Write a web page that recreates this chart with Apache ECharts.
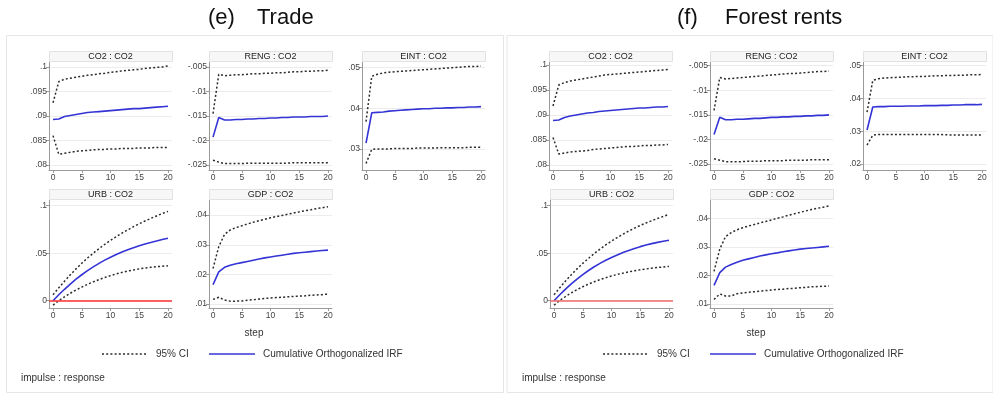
<!DOCTYPE html>
<html><head><meta charset="utf-8">
<script src="https://cdn.jsdelivr.net/npm/echarts@6/dist/echarts.min.js"></script>
<style>html,body{margin:0;padding:0;background:#fff}#c{width:993px;height:396px}</style>
</head><body><div id="c"></div><script>
// ---------- data ----------
const steps = [0,1,2,3,4,5,6,7,8,9,10,11,12,13,14,15,16,17,18,19,20];
const stepTicks = [0,5,10,15,20];

// (e) Trade
const e_co2_irf = [0.0893,0.0894,0.0899,0.0901,0.0903,0.0905,0.0907,0.0908,0.0909,0.0910,0.0911,0.0912,0.0913,0.0914,0.0915,0.0915,0.0916,0.0917,0.0918,0.0919,0.0920];
const e_co2_hi  = [0.0927,0.0970,0.0975,0.0977,0.0979,0.0981,0.0983,0.0984,0.0986,0.0987,0.0989,0.0990,0.0992,0.0993,0.0994,0.0995,0.0997,0.0998,0.0999,0.1000,0.1002];
const e_co2_lo  = [0.0860,0.0822,0.0824,0.0826,0.0828,0.0829,0.0830,0.0831,0.0832,0.0832,0.0833,0.0833,0.0834,0.0834,0.0834,0.0835,0.0835,0.0835,0.0836,0.0836,0.0836];

const e_reng_irf = [-0.0193,-0.0153,-0.0158,-0.0158,-0.0157,-0.0157,-0.0156,-0.0156,-0.0155,-0.0155,-0.0154,-0.0154,-0.0153,-0.0153,-0.0152,-0.0152,-0.0152,-0.0151,-0.0151,-0.0151,-0.0150];
const e_reng_hi  = [-0.0145,-0.0065,-0.0068,-0.0067,-0.0066,-0.0066,-0.0065,-0.0064,-0.0064,-0.0063,-0.0063,-0.0062,-0.0062,-0.0061,-0.0060,-0.0060,-0.0059,-0.0059,-0.0058,-0.0058,-0.0057];
const e_reng_lo  = [-0.0240,-0.0244,-0.0247,-0.0247,-0.0247,-0.0247,-0.0246,-0.0246,-0.0246,-0.0246,-0.0246,-0.0246,-0.0246,-0.0246,-0.0245,-0.0245,-0.0245,-0.0245,-0.0245,-0.0245,-0.0245];

const e_eint_irf = [0.0314,0.0389,0.0390,0.0391,0.0393,0.0394,0.0395,0.0396,0.0397,0.0398,0.0399,0.0399,0.0400,0.0400,0.0401,0.0401,0.0402,0.0402,0.0403,0.0403,0.0404];
const e_eint_hi  = [0.0367,0.0479,0.0484,0.0487,0.0489,0.0490,0.0491,0.0492,0.0493,0.0494,0.0495,0.0496,0.0497,0.0498,0.0499,0.0500,0.0501,0.0502,0.0503,0.0503,0.0504];
const e_eint_lo  = [0.0264,0.0299,0.0300,0.0300,0.0300,0.0301,0.0301,0.0301,0.0301,0.0302,0.0302,0.0302,0.0302,0.0303,0.0303,0.0303,0.0303,0.0303,0.0304,0.0304,0.0304];

const e_urb_irf = [0.0000,0.0062,0.0120,0.0175,0.0226,0.0273,0.0316,0.0356,0.0393,0.0427,0.0458,0.0486,0.0512,0.0536,0.0558,0.0578,0.0596,0.0613,0.0629,0.0644,0.0658];
const e_urb_hi  = [0.0062,0.0135,0.0205,0.0272,0.0335,0.0394,0.0449,0.0500,0.0548,0.0593,0.0635,0.0674,0.0711,0.0746,0.0779,0.0810,0.0839,0.0866,0.0892,0.0917,0.0940];
const e_urb_lo  = [-0.0046,0.0000,0.0040,0.0078,0.0112,0.0143,0.0172,0.0198,0.0222,0.0244,0.0264,0.0282,0.0298,0.0312,0.0324,0.0335,0.0344,0.0352,0.0358,0.0363,0.0367];

const e_gdp_irf = [0.0166,0.0209,0.0224,0.0231,0.0236,0.0240,0.0244,0.0248,0.0252,0.0256,0.0259,0.0262,0.0265,0.0268,0.0271,0.0273,0.0275,0.0277,0.0279,0.0281,0.0282];
const e_gdp_hi  = [0.0220,0.0294,0.0335,0.0350,0.0358,0.0364,0.0370,0.0376,0.0381,0.0386,0.0391,0.0395,0.0399,0.0403,0.0407,0.0411,0.0415,0.0418,0.0422,0.0425,0.0428];
const e_gdp_lo  = [0.0116,0.0123,0.0114,0.0110,0.0110,0.0111,0.0113,0.0115,0.0117,0.0119,0.0121,0.0122,0.0123,0.0125,0.0126,0.0127,0.0128,0.0130,0.0131,0.0132,0.0134];

// (f) Forest rents
const f_co2_irf = [0.0889,0.0890,0.0895,0.0898,0.0900,0.0902,0.0904,0.0905,0.0907,0.0908,0.0909,0.0910,0.0911,0.0912,0.0913,0.0914,0.0914,0.0915,0.0916,0.0916,0.0917];
const f_co2_hi  = [0.0918,0.0960,0.0965,0.0968,0.0970,0.0972,0.0974,0.0976,0.0978,0.0980,0.0981,0.0982,0.0983,0.0984,0.0985,0.0986,0.0987,0.0988,0.0989,0.0990,0.0991];
const f_co2_lo  = [0.0855,0.0822,0.0824,0.0826,0.0827,0.0828,0.0829,0.0831,0.0832,0.0833,0.0834,0.0835,0.0836,0.0837,0.0837,0.0838,0.0839,0.0839,0.0840,0.0840,0.0841];

const f_reng_irf = [-0.0190,-0.0155,-0.0160,-0.0160,-0.0159,-0.0159,-0.0158,-0.0157,-0.0157,-0.0156,-0.0155,-0.0155,-0.0154,-0.0154,-0.0153,-0.0153,-0.0152,-0.0152,-0.0151,-0.0151,-0.0150];
const f_reng_hi  = [-0.0141,-0.0074,-0.0077,-0.0076,-0.0075,-0.0074,-0.0073,-0.0072,-0.0071,-0.0070,-0.0069,-0.0068,-0.0067,-0.0066,-0.0066,-0.0065,-0.0064,-0.0063,-0.0062,-0.0062,-0.0061];
const f_reng_lo  = [-0.0239,-0.0242,-0.0245,-0.0245,-0.0245,-0.0245,-0.0244,-0.0244,-0.0244,-0.0243,-0.0243,-0.0243,-0.0243,-0.0242,-0.0242,-0.0242,-0.0242,-0.0241,-0.0241,-0.0241,-0.0241];

const f_eint_irf = [0.0304,0.0374,0.0375,0.0375,0.0376,0.0376,0.0376,0.0377,0.0377,0.0377,0.0378,0.0378,0.0378,0.0379,0.0379,0.0380,0.0380,0.0381,0.0381,0.0381,0.0382];
const f_eint_hi  = [0.0358,0.0455,0.0460,0.0462,0.0463,0.0464,0.0465,0.0466,0.0466,0.0467,0.0467,0.0468,0.0469,0.0469,0.0470,0.0470,0.0471,0.0471,0.0472,0.0472,0.0473];
const f_eint_lo  = [0.0258,0.0288,0.0290,0.0290,0.0290,0.0290,0.0290,0.0290,0.0290,0.0290,0.0290,0.0290,0.0290,0.0290,0.0289,0.0289,0.0289,0.0289,0.0289,0.0289,0.0289];

const f_urb_irf = [0.0000,0.0063,0.0122,0.0177,0.0228,0.0275,0.0318,0.0357,0.0393,0.0425,0.0455,0.0482,0.0507,0.0529,0.0550,0.0569,0.0586,0.0601,0.0614,0.0626,0.0637];
const f_urb_hi  = [0.0062,0.0136,0.0207,0.0273,0.0335,0.0393,0.0446,0.0496,0.0543,0.0587,0.0627,0.0665,0.0700,0.0733,0.0764,0.0792,0.0818,0.0842,0.0865,0.0887,0.0908];
const f_urb_lo  = [-0.0046,0.0002,0.0044,0.0082,0.0116,0.0147,0.0175,0.0200,0.0222,0.0242,0.0260,0.0276,0.0290,0.0303,0.0315,0.0325,0.0334,0.0342,0.0349,0.0355,0.0360];

const f_gdp_irf = [0.0165,0.0210,0.0229,0.0238,0.0246,0.0253,0.0258,0.0263,0.0268,0.0272,0.0276,0.0279,0.0283,0.0286,0.0289,0.0292,0.0294,0.0296,0.0298,0.0300,0.0302];
const f_gdp_hi  = [0.0214,0.0292,0.0336,0.0350,0.0360,0.0367,0.0373,0.0378,0.0384,0.0389,0.0394,0.0400,0.0405,0.0411,0.0416,0.0421,0.0426,0.0431,0.0435,0.0439,0.0443];
const f_gdp_lo  = [0.0116,0.0135,0.0128,0.0128,0.0136,0.0139,0.0141,0.0143,0.0145,0.0147,0.0149,0.0151,0.0152,0.0154,0.0155,0.0157,0.0158,0.0160,0.0161,0.0162,0.0163];

// tick labels
const co2Ticks  = [0.08,0.085,0.09,0.095,0.1];
const rengTicks = [-0.025,-0.02,-0.015,-0.01,-0.005];
const eintTicksE = [0.03,0.04,0.05];
const eintTicksF = [0.02,0.03,0.04,0.05];
const urbTicks  = [0,0.05,0.1];
const gdpTicks  = [0.01,0.02,0.03,0.04];

const panelTitles = [['(e)','Trade'],['(f)','Forest rents']];
const subTitles = ['CO2 : CO2','RENG : CO2','EINT : CO2','URB : CO2','GDP : CO2'];
const legendNames = ['95% CI','Cumulative Orthogonalized IRF'];

// ---------- layout ----------
const FONT = '"Liberation Sans", Arial, Helvetica, sans-serif';
const W = 123, H = 108;
const subs = [
  {t:0, left:49,  top:62,  min:0.079,  max:0.101,  ticks:co2Ticks,  irf:e_co2_irf,  lo:e_co2_lo,  hi:e_co2_hi},
  {t:1, left:209, top:62,  min:-0.026, max:-0.004, ticks:rengTicks, irf:e_reng_irf, lo:e_reng_lo, hi:e_reng_hi},
  {t:2, left:362, top:62,  min:0.0248, max:0.0514, ticks:eintTicksE,irf:e_eint_irf, lo:e_eint_lo, hi:e_eint_hi},
  {t:3, left:49,  top:200, min:-0.0077,max:0.106,  ticks:urbTicks,  irf:e_urb_irf,  lo:e_urb_lo,  hi:e_urb_hi, zero:'#ff3030'},
  {t:4, left:209, top:200, min:0.0087, max:0.0451, ticks:gdpTicks,  irf:e_gdp_irf,  lo:e_gdp_lo,  hi:e_gdp_hi},
  {t:0, left:549, top:62,  min:0.079,  max:0.1006, ticks:co2Ticks,  irf:f_co2_irf,  lo:f_co2_lo,  hi:f_co2_hi},
  {t:1, left:710, top:62,  min:-0.0262,max:-0.00425,ticks:rengTicks,irf:f_reng_irf, lo:f_reng_lo, hi:f_reng_hi},
  {t:2, left:863, top:62,  min:0.0182, max:0.0511, ticks:eintTicksF,irf:f_eint_irf, lo:f_eint_lo, hi:f_eint_hi},
  {t:3, left:550, top:200, min:-0.0077,max:0.106,  ticks:urbTicks,  irf:f_urb_irf,  lo:f_urb_lo,  hi:f_urb_hi, zero:'#f06a6a'},
  {t:4, left:710, top:200, min:0.0086, max:0.0464, ticks:gdpTicks,  irf:f_gdp_irf,  lo:f_gdp_lo,  hi:f_gdp_hi}
];

function fmt(v){ const s = String(+(+v).toFixed(4)); return s.replace(/^(-?)0\./,'$1.'); }
function pts(arr){ return steps.map((s,i)=>[s, arr[i]]); }

const grid=[], xAxis=[], yAxis=[], series=[], graphic=[];
const axisCol = '#9a9a9a', txtCol = '#444';
subs.forEach((s,i)=>{
  grid.push({left:s.left, top:s.top, width:W, height:H, containLabel:false});
  xAxis.push({gridIndex:i, type:'value', min:-0.7, max:20.7,
    axisLine:{show:true, onZero:false, lineStyle:{color:axisCol, width:1}},
    axisTick:{show:true, customValues:stepTicks, length:3, lineStyle:{color:axisCol}},
    axisLabel:{customValues:stepTicks, fontSize:8.5, color:txtCol, margin:3, fontFamily:FONT},
    splitLine:{show:false}});
  yAxis.push({gridIndex:i, type:'value', min:s.min, max:s.max,
    axisLine:{show:true, onZero:false, lineStyle:{color:axisCol, width:1}},
    axisTick:{show:true, customValues:s.ticks, length:3, lineStyle:{color:axisCol}},
    axisLabel:{customValues:s.ticks, fontSize:8.5, color:txtCol, margin:2, fontFamily:FONT, formatter:fmt},
    splitLine:{show:true, lineStyle:{color:'#ececec', width:1}}});
  const base = {type:'line', xAxisIndex:i, yAxisIndex:i, showSymbol:false, symbol:'none', animation:false, silent:true};
  series.push(Object.assign({}, base, {name:legendNames[0], data:pts(s.hi), lineStyle:{color:'#2b2b2b', width:1.5, type:[2,2.2]}}));
  series.push(Object.assign({}, base, {name:legendNames[0], data:pts(s.lo), lineStyle:{color:'#2b2b2b', width:1.5, type:[2,2.2]}}));
  const irf = Object.assign({}, base, {name:legendNames[1], data:pts(s.irf), lineStyle:{color:'#3434d6', width:1.6}});
  if (s.zero) irf.markLine = {silent:true, symbol:'none', animation:false, label:{show:false},
    lineStyle:{color:s.zero, width:1.5, type:'solid'}, data:[{yAxis:0}]};
  series.push(irf);
  // header strip
  graphic.push({type:'rect', shape:{x:s.left+0.5, y:s.top-10.5, width:W, height:10}, style:{fill:'#f7f7f7', stroke:'#e2e2e2', lineWidth:1}, z:1});
  graphic.push({type:'text', x:s.left+W/2, y:s.top-5.5, style:{text:subTitles[s.t], font:'9px '+FONT, fill:'#222', align:'center', verticalAlign:'middle'}, z:2});
});

// panels, titles, legend, notes
[0,1].forEach(p=>{
  const dx = p*501;
  graphic.push({type:'rect', shape:{x:6.5+p*500.5, y:35.5, width:p?486:497, height:357}, style:{fill:'none', stroke:'#e6e6e6', lineWidth:1}, z:0});
  graphic.push({type:'text', x:[208,677][p], y:18, style:{text:panelTitles[p][0], font:'22px '+FONT, fill:'#111', verticalAlign:'middle'}});
  graphic.push({type:'text', x:[257,725][p], y:18, style:{text:panelTitles[p][1], font:'22px '+FONT, fill:'#111', verticalAlign:'middle'}});
  graphic.push({type:'text', x:[254,756][p], y:333, style:{text:'step', font:'10px '+FONT, fill:'#333', align:'center', verticalAlign:'middle'}});
  graphic.push({type:'line', shape:{x1:102+dx, y1:354, x2:147+dx, y2:354}, style:{stroke:'#2b2b2b', lineWidth:1.5, lineDash:[2,2.2]}});
  graphic.push({type:'text', x:156+dx, y:354, style:{text:legendNames[0], font:'10px '+FONT, fill:'#333', verticalAlign:'middle'}});
  graphic.push({type:'line', shape:{x1:209+dx, y1:354, x2:255+dx, y2:354}, style:{stroke:'#3434d6', lineWidth:1.6}});
  graphic.push({type:'text', x:263+dx, y:354, style:{text:legendNames[1], font:'10px '+FONT, fill:'#333', verticalAlign:'middle'}});
  graphic.push({type:'text', x:21+dx, y:378, style:{text:'impulse : response', font:'10px '+FONT, fill:'#333', verticalAlign:'middle'}});
});

const chart = echarts.init(document.getElementById('c'), null, {renderer:'canvas'});
chart.setOption({animation:false, backgroundColor:'#fff', grid, xAxis, yAxis, series, graphic});
</script></body></html>
